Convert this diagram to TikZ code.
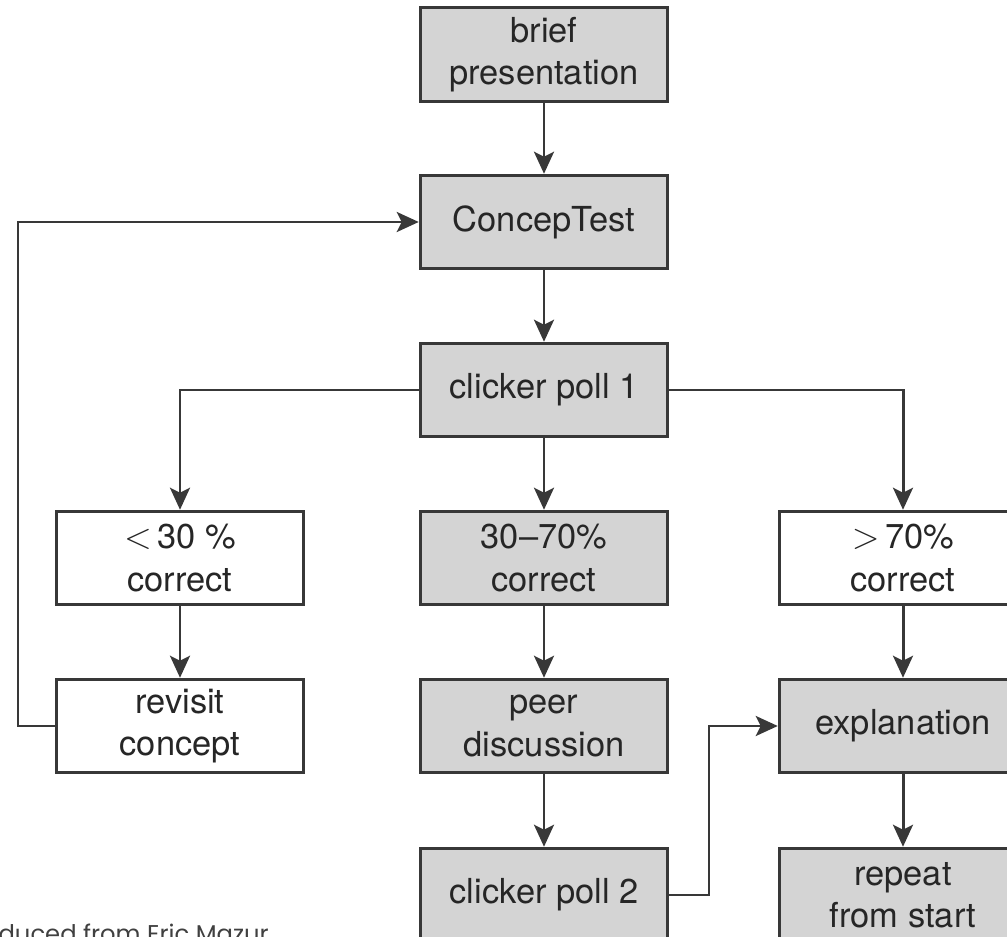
\documentclass[tikz,border=0pt]{standalone}
\usepackage{fontspec}
\setmainfont{TeX Gyre Heros}
\newfontfamily\creditfont{Poppins}
\usetikzlibrary{arrows.meta}

\begin{document}
\begin{tikzpicture}[>={Stealth[length=4.4mm,width=4mm,inset=1mm]},line width=1.7pt,
  font=\fontsize{19.6}{24}\selectfont,
  stage/.style={draw=black!78,fill=black!17,minimum width=4.95cm,minimum height=1.87cm,align=center,text=black!85},
  outcome/.style={stage,fill=white},
  flow/.style={->,draw=black!78}]
\useasboundingbox (0,0) rectangle (20.14,-18.74);
\clip (0,0) rectangle (20.14,-18.74);
% middle column
\node[stage] (brief) at (10.88,-1.09) {brief\\presentation};
\node[stage] (concep) at (10.88,-4.44) {ConcepTest};
\node[stage] (pollA) at (10.88,-7.8) {clicker poll 1};
\node[stage] (mid) at (10.88,-11.16) {30--70\%\\correct};
\node[stage] (peer) at (10.88,-14.52) {peer\\discussion};
\node[stage] (pollB) at (10.88,-17.9) {clicker poll 2};
% left column
\node[outcome] (low) at (3.6,-11.16) {$<$\,30 \%\\correct};
\node[outcome] (revisit) at (3.6,-14.52) {revisit\\concept};
% right column
\node[outcome] (high) at (18.06,-11.16) {$>$\,70\%\\correct};
\node[stage] (explain) at (18.06,-14.52) {explanation};
\node[stage] (repeat) at (18.06,-17.9) {repeat\\from start};
\coordinate (loopcorner) at (0.36,-14.52);
\coordinate (jog) at (14.18,-17.9);
% arrows
\draw[flow] (brief) -- (concep);
\draw[flow] (concep) -- (pollA);
\draw[flow] (pollA) -- (mid);
\draw[flow] (pollA.west) -| (low.north);
\draw[flow] (pollA.east) -| (high.north);
\draw[flow] (low) -- (revisit);
\draw[flow] (mid) -- (peer);
\draw[flow] (peer) -- (pollB);
\draw[flow] (high) -- (explain);
\draw[flow] (explain) -- (repeat);
\draw[flow] (revisit.west) -- (loopcorner) |- (concep.west);
\draw[flow] (pollB.east) -- (jog) |- (explain.west);
\node[font=\creditfont\fontsize{13.8}{16}\selectfont,text=black!75,anchor=base east] (credit) at (5.52,-18.84) {Reproduced from Eric Mazur};
\end{tikzpicture}
\end{document}
